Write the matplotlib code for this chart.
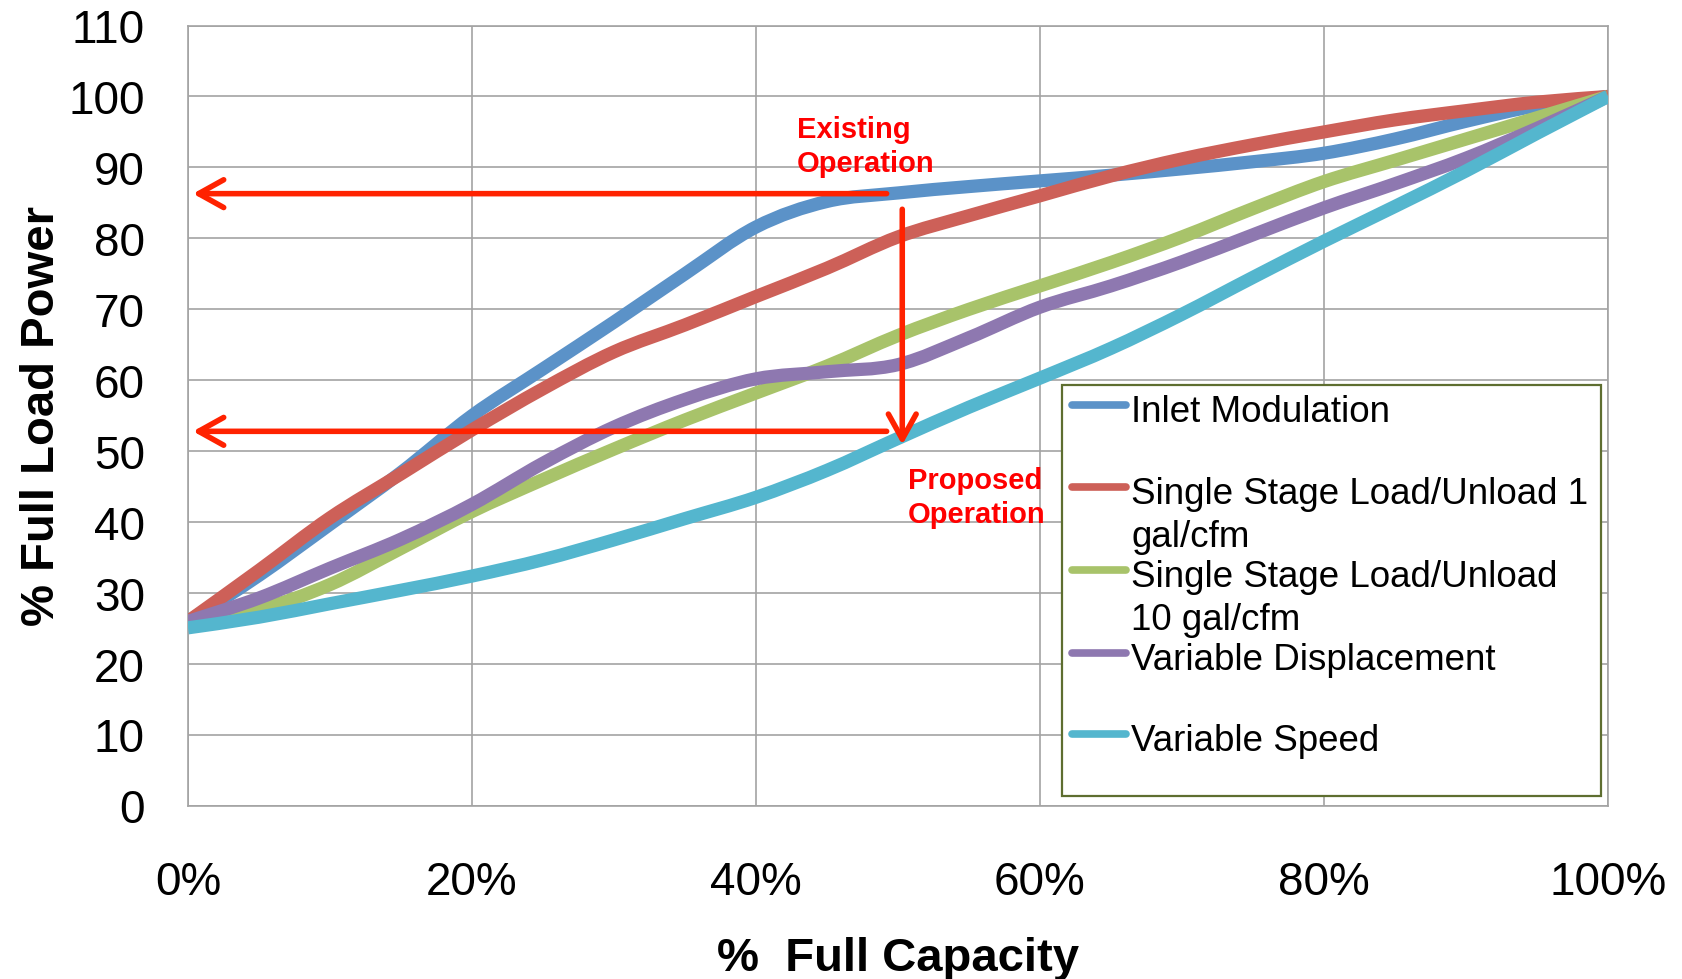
import numpy as np
import matplotlib
matplotlib.use("Agg")
import matplotlib.pyplot as plt
from matplotlib.patches import Rectangle, PathPatch
from matplotlib.lines import Line2D
from matplotlib.path import Path

plt.rcParams["font.family"] = ["Liberation Sans", "DejaVu Sans"]

# % full capacity
capacity = [0, 5, 10, 15, 20, 25, 30, 35, 40, 45, 50,
            55, 60, 65, 70, 75, 80, 85, 90, 95, 100]

# % full load power for each control type
inlet_modulation = [26, 32.5, 39.7, 47, 55, 61.6, 68.2, 75, 81.6, 85.2, 86.4,
                    87.3, 88.1, 88.9, 89.8, 90.8, 92, 94, 96.5, 98.7, 100]
load_unload_1 = [26, 33.2, 40.6, 46.8, 53, 58.8, 64, 67.8, 71.8, 75.8, 80.2,
                 83.2, 86, 88.8, 91.2, 93.2, 95, 96.7, 98, 99.2, 100]
load_unload_10 = [26, 27.7, 31.2, 36.3, 41.5, 46, 50.3, 54.4, 58.2, 62, 66.3,
                  70, 73.3, 76.6, 80.2, 84.2, 88, 91, 94, 97, 100]
variable_displacement = [26, 29.3, 33.5, 37.6, 42.5, 48.3, 53.4, 57.3, 60.2, 61.2, 62.2,
                         66, 70.3, 73.3, 76.7, 80.5, 84.3, 87.7, 91.3, 95.5, 100]
variable_speed = [25.1, 26.6, 28.5, 30.4, 32.4, 34.7, 37.5, 40.5, 43.5, 47.3, 51.8,
                  56.2, 60.3, 64.5, 69.3, 74.5, 79.6, 84.5, 89.5, 94.8, 100]

series = [inlet_modulation, load_unload_1, load_unload_10,
          variable_displacement, variable_speed]
series_labels = ["Inlet Modulation",
                 "Single Stage Load/Unload 1\ngal/cfm",
                 "Single Stage Load/Unload\n10 gal/cfm",
                 "Variable Displacement",
                 "Variable Speed"]
series_colors = ["#5B92C8", "#CD6058", "#A8C36A", "#8E78B0", "#54B6CE"]

x_ticks = [0, 20, 40, 60, 80, 100]
x_tick_labels = ["0%", "20%", "40%", "60%", "80%", "100%"]
y_ticks = [0, 10, 20, 30, 40, 50, 60, 70, 80, 90, 100, 110]

# operating point arrows
existing_power = 86.3
proposed_power = 52.8
arrow_tail_x = 49.2
drop_x = 50.3
drop_from = 84.1
drop_to = 50.9

arrow_color = "#FF2200"
grid_color = "#A3A3A3"


def smooth_path(xs, ys):
    # bezier through every point, same 1/6 tangent rule as spreadsheet smoothed lines
    pts = np.column_stack([xs, ys]).astype(float)
    padded = np.vstack([pts[0], pts, pts[-1]])
    verts = [pts[0]]
    codes = [Path.MOVETO]
    for i in range(len(pts) - 1):
        p0, p1, p2, p3 = padded[i], padded[i + 1], padded[i + 2], padded[i + 3]
        verts += [p1 + (p2 - p0) / 6, p2 - (p3 - p1) / 6, p2]
        codes += [Path.CURVE4] * 3
    return Path(verts, codes)


fig = plt.figure(figsize=(16.82, 9.795), dpi=100)
ax = fig.add_axes([188 / 1682, 1 - 806 / 979, 1420 / 1682, 780 / 979])

for values, color in zip(series, series_colors):
    ax.add_patch(PathPatch(smooth_path(capacity, values), fill=False,
                           edgecolor=color, lw=9.5, capstyle="butt",
                           joinstyle="round", zorder=3))

ax.set_xlim(0, 100)
ax.set_ylim(0, 110)
ax.set_xticks(x_ticks, x_tick_labels)
ax.set_yticks(y_ticks)
ax.tick_params(length=0, labelsize=33)
ax.tick_params(axis="x", pad=39)
ax.tick_params(axis="y", pad=31)
ax.grid(True, color=grid_color, lw=1.2)
ax.set_axisbelow(True)
for spine in ax.spines.values():
    spine.set_color(grid_color)
    spine.set_linewidth(1.2)

ax.set_xlabel("%  Full Capacity", fontsize=34, fontweight="bold", va="center")
ax.xaxis.set_label_coords(0.5, -0.195)
ax.set_ylabel("% Full Load Power", fontsize=34, fontweight="bold", va="center")
ax.yaxis.set_label_coords(-0.1025, 0.5)

# arrows: existing vs proposed operation
arrow_props = dict(arrowstyle="->,head_length=0.9,head_width=0.5",
                   color=arrow_color, lw=4, shrinkA=0, shrinkB=0,
                   mutation_scale=20, capstyle="round", joinstyle="round")
for power in [existing_power, proposed_power]:
    ax.annotate("", xy=(0.35, power), xytext=(arrow_tail_x, power),
                arrowprops=arrow_props, zorder=6)
ax.annotate("", xy=(drop_x, drop_to), xytext=(drop_x, drop_from),
            arrowprops=arrow_props, zorder=6)

ax.text(42.9, 97.3, "Existing\nOperation", color="#FF0000", fontsize=21,
        fontweight="bold", ha="left", va="top", linespacing=1.28, zorder=7)
ax.text(50.7, 47.8, "Proposed\nOperation", color="#FF0000", fontsize=21,
        fontweight="bold", ha="left", va="top", linespacing=1.28, zorder=7)

# legend box drawn by hand so wrapped entries overflow like the original
ax.add_patch(Rectangle((0.6155, 0.0128), 0.3795, 0.5269, transform=ax.transAxes,
                       facecolor="white", edgecolor="#5E6E30", lw=1.6, zorder=8))
row_y = [0.5141, 0.4086, 0.3026, 0.1965, 0.0919]
for y, label, color in zip(row_y, series_labels, series_colors):
    ax.add_line(Line2D([0.6225, 0.6605], [y, y], transform=ax.transAxes,
                       color=color, lw=5.5, solid_capstyle="round", zorder=9))
    for i, line in enumerate(label.split("\n")):
        ax.text(0.6641, y - 0.0212 - i * 0.0551, line, transform=ax.transAxes,
                fontsize=26.5, ha="left", va="baseline", zorder=9)

fig.savefig("out.png", dpi=100)
